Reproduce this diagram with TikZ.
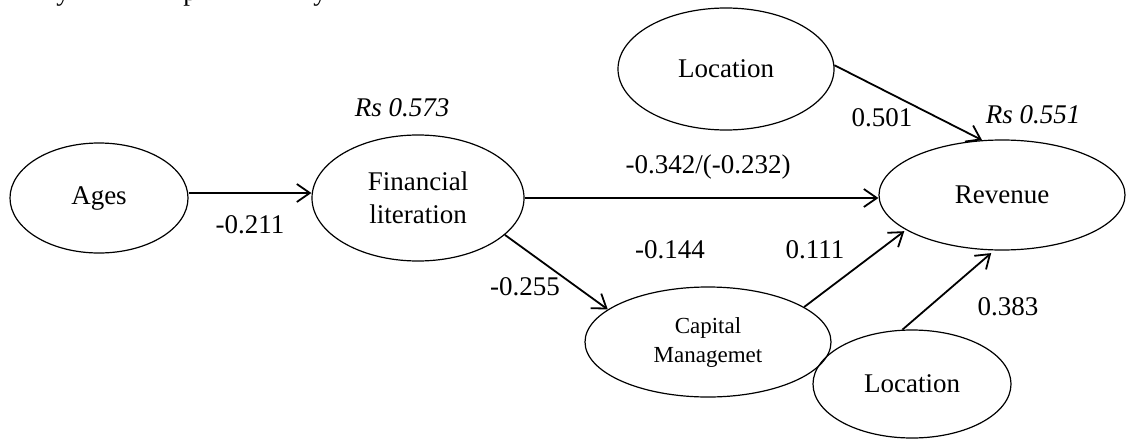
\documentclass[tikz,border=0pt]{standalone}
\usepackage{fontspec}
\setmainfont{Liberation Serif}
\usetikzlibrary{shapes.geometric,arrows.meta}
\begin{document}
\begin{tikzpicture}[x=1pt,y=-1pt,
  latent/.style={ellipse,draw,line width=1.2pt,inner sep=0pt,align=center,font=\fontsize{27}{33}\selectfont},
  smalllatent/.style={latent,font=\fontsize{23}{29}\selectfont},
  pathline/.style={line width=1.8pt,-{Straight Barb[length=13pt,width=18pt,line width=1.8pt]}},
  coef/.style={font=\fontsize{27}{30}\selectfont,inner sep=0pt},
  rsq/.style={font=\fontsize{27}{30}\selectfont\itshape,inner sep=0pt}]
\useasboundingbox (0,0) rectangle (1126,439);
% cut-off text line at the top edge
\begin{scope}
\clip (0,0) rectangle (1126,439);
\node[coef,anchor=base] (frag1) at (63,1) {y};
\node[coef,anchor=base] (frag2) at (190,1) {p};
\node[coef,anchor=base] (frag3) at (320,1) {y};
\end{scope}
% latent variables
\node[latent,minimum width=178pt,minimum height=110pt] (ages) at (99,198) {Ages};
\node[latent,minimum width=212pt,minimum height=126pt] (fl) at (418,198) {Financial\\literation};
\node[latent,minimum width=216pt,minimum height=122pt] (loctop) at (726,69) {Location};
\node[latent,minimum width=246pt,minimum height=110pt] (rev) at (1002,195) {Revenue};
\node[smalllatent,minimum width=246pt,minimum height=110pt] (cm) at (708,342) {Capital\\Managemet};
\node[latent,minimum width=198pt,minimum height=108pt] (locbot) at (912,384) {Location};
% paths
\draw[pathline] ([yshift=5pt]ages.east) -- ([yshift=5pt]fl.west);
\draw[pathline] (fl.east) -- (fl.east -| rev.west);
\draw[pathline] (loctop.2) -- (rev.110);
\draw[pathline] (fl.-23) -- (cm.162);
\draw[pathline,shorten >=2pt] (cm.20) -- (rev.200);
\draw[pathline,shorten >=4pt] (locbot.100) -- (rev.262);
% coefficients
\node[rsq] (r1) at (402,108) {Rs 0.573};
\node[rsq] (r2) at (1033,115) {Rs 0.551};
\node[coef] (c1) at (250,225) {-0.211};
\node[coef] (c2) at (708,167) {-0.342/(-0.232)};
\node[coef] (c3) at (882,118) {0.501};
\node[coef] (c4) at (525,287) {-0.255};
\node[coef] (c5) at (670,250) {-0.144};
\node[coef] (c6) at (815,250) {0.111};
\node[coef] (c7) at (1008,307) {0.383};
\end{tikzpicture}
\end{document}
